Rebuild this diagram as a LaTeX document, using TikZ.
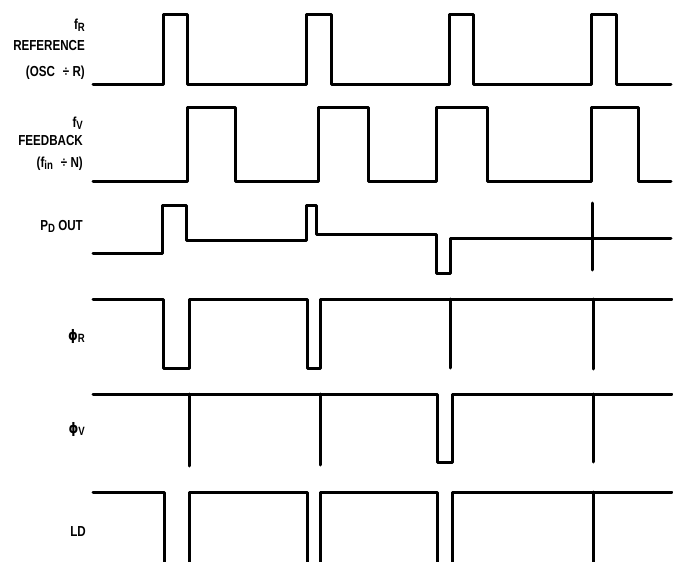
\documentclass[tikz,border=0pt]{standalone}
\usepackage{fontspec}
\usepackage{tikz}
\newfontfamily\lblfont[FakeStretch=0.8]{Liberation Sans}
\newfontfamily\phifont[FakeStretch=0.85]{DejaVu Sans}
\newcommand{\sub}[1]{\raisebox{-0.3ex}{\fontsize{12}{12}\selectfont #1}}
\newcommand{\phisym}{{\phifont\bfseries ϕ}}

\tikzset{
  sig/.style={line width=3pt, line join=round, line cap=round},
  lbl/.style={anchor=base east, font=\lblfont\bfseries\fontsize{14.5}{16}\selectfont, inner sep=0pt}
}

\begin{document}
\begin{tikzpicture}[x=1pt, y=-1pt]
  \useasboundingbox (0,0) rectangle (673,562);

  % Signal names
  \node[lbl] (fR) at (85,29) {f\sub{R}};
  \node[lbl] (fRref) at (85,50) {REFERENCE};
  \node[lbl] (fRdiv) at (85,76) {(OSC \,\,÷ R)};
  \node[lbl] (fV) at (83,127) {f\sub{V}};
  \node[lbl] (fVfb) at (83,145) {FEEDBACK};
  \node[lbl] (fVdiv) at (83,167) {(f\sub{in} \,\,÷ N)};
  \node[lbl] (pd) at (83,230) {P\sub{D} OUT};
  \node[lbl] (phiR) at (85,340) {\phisym\sub{R}};
  \node[lbl] (phiV) at (85,433) {\phisym\sub{V}};
  \node[lbl] (ld) at (86,536) {LD};

  % Reference
  \draw[sig] (93,84) -| (163,14) -| (187,84) -| (306,14) -| (331,84)
    -| (449,14) -| (473,84) -| (591,14) -| (616,84) -- (671,84);

  % Feedback
  \draw[sig] (93,181) -| (187,107) -| (235,181) -| (318,107) -| (368,181)
    -| (436,107) -| (487,181) -| (591,107) -| (638,181) -- (671,181);

  % Phase detector output
  \draw[sig] (93,253) -| (162,205) -| (186,240) -| (306,205) -| (316,234)
    -| (436,273) -| (450,238) -- (671,238);
  \draw[sig] (592,203) -- (592,270);

  % phi R
  \draw[sig] (93,299) -| (163,368) -| (189,299) -| (307,368) -| (320,299) -- (672,299);
  \draw[sig] (450,299) -- (450,368);
  \draw[sig] (593,299) -- (593,369);

  % phi V
  \draw[sig] (93,394) -| (437,462) -| (452,394) -- (672,394);
  \draw[sig] (189,394) -- (189,466);
  \draw[sig] (320,394) -- (320,465);
  \draw[sig] (593,394) -- (593,462);

  % Lock detect
  \draw[sig] (93,492) -| (164,563);
  \draw[sig] (189,563) |- (307,492) -- (307,563);
  \draw[sig] (320,563) |- (437,492) -- (437,563);
  \draw[sig] (452,563) |- (672,492);
  \draw[sig] (593,492) -- (593,563);
\end{tikzpicture}
\end{document}
